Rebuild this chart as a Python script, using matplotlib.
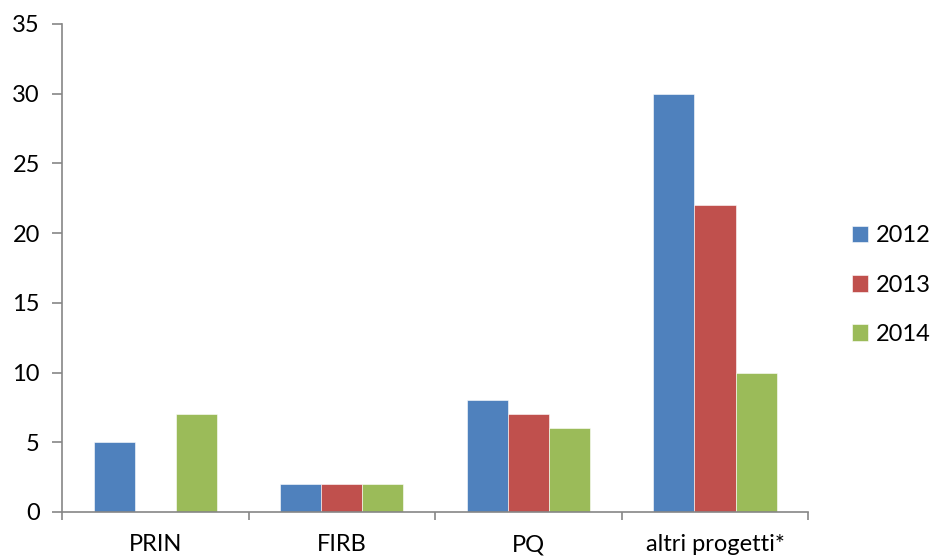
import matplotlib
matplotlib.use("Agg")
import matplotlib.pyplot as plt
import numpy as np

plt.rcParams['font.family'] = ['Lato', 'DejaVu Sans']

categories = ["PRIN", "FIRB", "PQ", "altri progetti*"]
years = ["2012", "2013", "2014"]
values_2012 = [5, 2, 8, 30]
values_2013 = [0, 2, 7, 22]
values_2014 = [7, 2, 6, 10]
colors = ["#4F81BD", "#C0504D", "#9BBB59"]

series = [values_2012, values_2013, values_2014]

fig = plt.figure(figsize=(9.3, 5.59), dpi=100)
ax = fig.add_axes([0.0667, 0.0841, 0.8024, 0.873])

x = np.arange(len(categories))
width = 0.22
for i, (vals, year, col) in enumerate(zip(series, years, colors)):
    ax.bar(x + (i - 1) * width, vals, width, color=col, label=year,
           edgecolor="white", linewidth=0.4)

ax.set_xlim(-0.5, len(categories) - 0.5)
ax.set_ylim(0, 35)
ax.set_yticks(range(0, 36, 5))

# category labels centred, tick marks on the category boundaries
ax.set_xticks(np.arange(-0.5, len(categories), 1.0))
ax.set_xticklabels([])
ax.set_xticks(x, minor=True)
ax.set_xticklabels(categories, minor=True)
ax.tick_params(axis="x", which="minor", length=0, pad=16, labelsize=17)
ax.tick_params(axis="x", which="major", length=6, color="#868686", width=1.2)
ax.tick_params(axis="y", length=7, color="#868686", width=1.2, labelsize=17, pad=9)

for side in ["top", "right"]:
    ax.spines[side].set_visible(False)
for side in ["left", "bottom"]:
    ax.spines[side].set_color("#868686")
    ax.spines[side].set_linewidth(1.2)

ax.legend(loc="center left", bbox_to_anchor=(1.03, 0.465), frameon=False,
          fontsize=17, handlelength=0.7, handleheight=0.7,
          handletextpad=0.3, labelspacing=1.2)

fig.savefig("out.png", dpi=100)
